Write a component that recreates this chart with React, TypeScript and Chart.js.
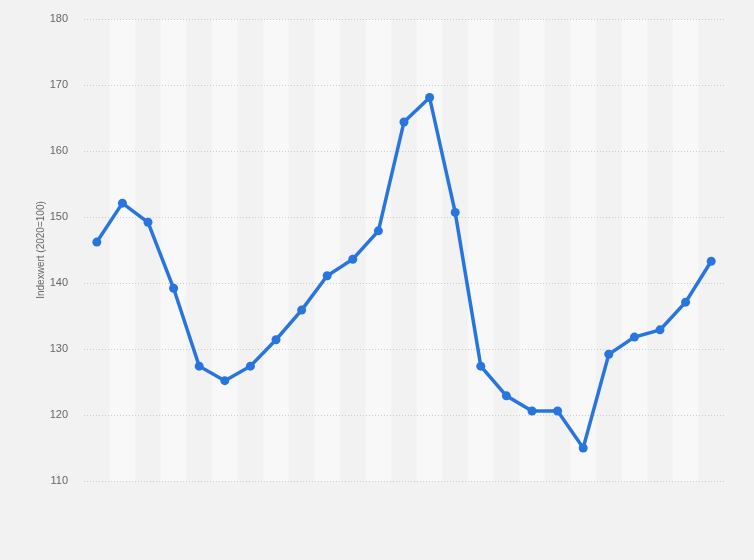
import React, { useEffect, useRef } from "react";
import { Chart, registerables } from "chart.js";

Chart.register(...registerables);

const categories: string[] = [
  "1", "2", "3", "4", "5", "6", "7", "8", "9", "10", "11", "12", "13",
  "14", "15", "16", "17", "18", "19", "20", "21", "22", "23", "24", "25",
];
const indexValues: number[] = [
  146.2, 152.1, 149.2, 139.2, 127.4, 125.2, 127.4, 131.4, 135.9, 141.1, 143.6, 147.9, 164.4,
  168.1, 150.7, 127.4, 122.9, 120.6, 120.6, 115.0, 129.2, 131.8, 132.9, 137.1, 143.3,
];
const yTicks: number[] = [110, 120, 130, 140, 150, 160, 170, 180];
const yTitle = "Indexwert (2020=100)";

const stripePlugin = {
  id: "stripes",
  beforeDraw(chart: any) {
    const { ctx, chartArea, scales } = chart;
    ctx.save();
    ctx.fillStyle = "#f2f2f2";
    ctx.fillRect(0, 0, chart.width, chart.height);
    const x = scales.x;
    const n = categories.length;
    const w = (chartArea.right - chartArea.left) / n;
    ctx.fillStyle = "#f8f8f8";
    for (let i = 0; i < n; i++) {
      if (i % 2 === 1) {
        const c = x.getPixelForValue(i);
        ctx.fillRect(c - w / 2, chartArea.top, w, chartArea.bottom - chartArea.top);
      }
    }
    ctx.restore();
  },
};

export default function App() {
  const ref = useRef<HTMLCanvasElement | null>(null);
  useEffect(() => {
    document.body.style.margin = "0";
    document.body.style.background = "#f2f2f2";
    const chart = new Chart(ref.current as HTMLCanvasElement, {
      type: "line",
      data: {
        labels: categories,
        datasets: [
          {
            data: indexValues,
            borderColor: "#2876dd",
            backgroundColor: "#2876dd",
            borderWidth: 3.5,
            pointRadius: 4.5,
            pointBackgroundColor: "#2876dd",
            pointBorderWidth: 0,
            tension: 0,
          },
        ],
      },
      options: {
        animation: false,
        responsive: false,
        maintainAspectRatio: false,
        layout: { padding: { left: 35, right: 30, top: 19, bottom: 79 } },
        plugins: { legend: { display: false }, tooltip: { enabled: false } },
        scales: {
          x: {
            type: "category",
            offset: true,
            display: false,
          },
          y: {
            min: 110,
            max: 180,
            afterFit(scale: any) {
              scale.width = 49;
              scale.paddingTop = 0;
              scale.paddingBottom = 0;
            },
            afterBuildTicks(scale: any) {
              scale.ticks = yTicks.map((v) => ({ value: v }));
            },
            border: { display: false, dash: [1, 2] },
            grid: {
              color: "#cccccc",
              lineWidth: 1,
              drawTicks: false,
            },
            ticks: {
              padding: 16,
              color: "#666666",
              font: { family: "Liberation Sans, Arial, sans-serif", size: 11 },
            },
            title: {
              display: true,
              text: yTitle,
              color: "#666666",
              padding: { top: 0, bottom: 4 },
              font: { family: "Liberation Sans, Arial, sans-serif", size: 10 },
            },
          },
        },
      },
      plugins: [stripePlugin],
    } as any);
    return () => chart.destroy();
  }, []);
  return (
    <div style={{ width: 754, height: 560, background: "#f2f2f2" }}>
      <canvas ref={ref} width={754} height={560} style={{ display: "block" }} />
    </div>
  );
}
